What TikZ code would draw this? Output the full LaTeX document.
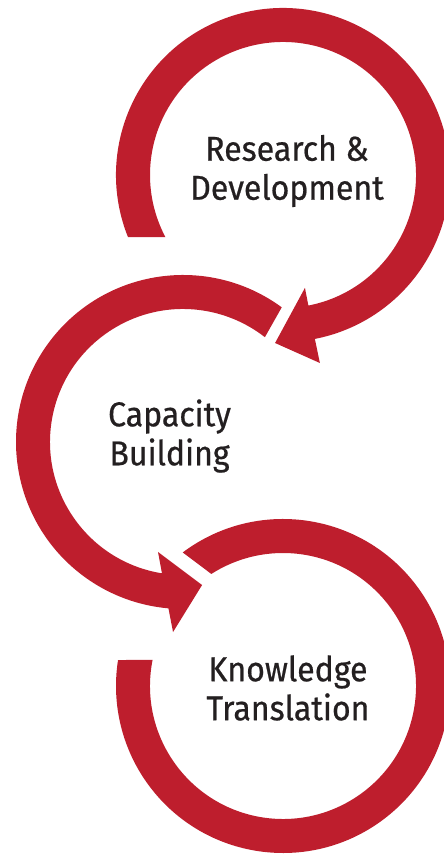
\documentclass[tikz,border=0pt]{standalone}
\usepackage{fontspec}
\setmainfont{Fira Sans}
\newfontfamily\lblfont{Fira Sans}[FakeBold=0.6]
\definecolor{bandred}{HTML}{BE1E2D}
\definecolor{labelgray}{HTML}{231F20}
\begin{document}
\begin{tikzpicture}[x=1pt,y=1pt,
  redband/.style={fill=bandred},
  cirtext/.style={text=labelgray,font=\lblfont\fontsize{34.5}{39}\selectfont,align=center,inner sep=0pt,xscale=0.93,transform shape}]
\clip (0,0) rectangle (444,854);
% circle 1: Research & Development
\begin{scope}[shift={(283,679)}]
\fill[redband] (201.8:167) arc[start angle=201.8,end angle=-79,radius=167]
  -- (-78.9:191.6) -- (-92.7:168.2) -- (-79:115) -- (-79:133)
  arc[start angle=-79,end angle=207.8,radius=133] -- cycle;
\end{scope}
% circle 2: Capacity Building
\begin{scope}[shift={(183,412)}]
\fill[redband] (53.75:167) arc[start angle=53.75,end angle=265,radius=167]
  -- (267:190.3) -- (277.6:144.3) -- (257.2:112.8) -- (260.9:133)
  arc[start angle=260.9,end angle=52,radius=133] -- cycle;
\end{scope}
% circle 3: Knowledge Translation
\begin{scope}[shift={(283,168)}]
\fill[redband] (126.9:167) arc[start angle=126.9,end angle=-188.95,radius=167]
  -- (-191.3:133) arc[start angle=-191.3,end angle=122.6,radius=133] -- cycle;
\end{scope}
\node[cirtext] (rd) at (287,683) {Research \&\\Development};
\node[cirtext] (cb) at (169.5,418) {Capacity\\Building};
\node[cirtext] (kt) at (288,166) {Knowledge\\Translation};
\end{tikzpicture}
\end{document}
